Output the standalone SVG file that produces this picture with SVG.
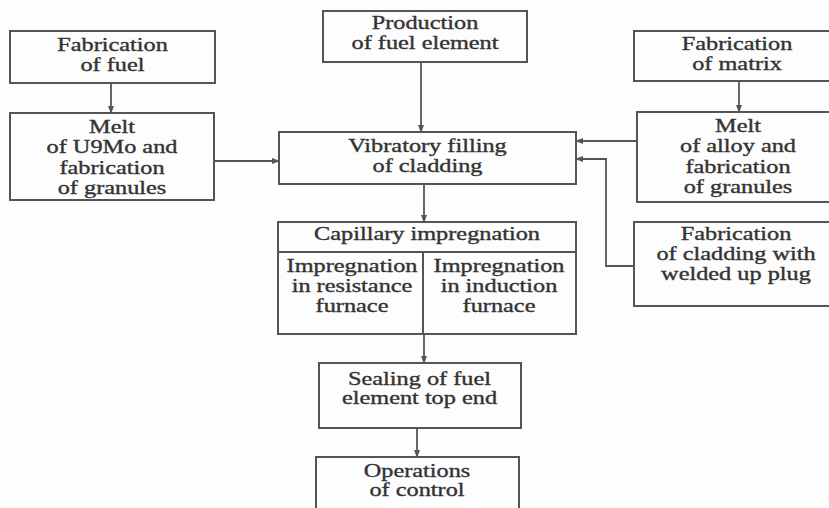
<svg xmlns="http://www.w3.org/2000/svg" width="829" height="508" viewBox="0 0 829 508">
<style>
.box{fill:none;stroke:#555;stroke-width:2}
.ln{fill:none;stroke:#555;stroke-width:1.8}
text{font-family:"Liberation Serif","Times New Roman",serif;font-size:18px;fill:#333;stroke:#333;stroke-width:0.35;text-anchor:middle}
</style>
<defs>
<marker id="ah" markerWidth="8" markerHeight="6" refX="7" refY="3" orient="auto" markerUnits="userSpaceOnUse">
<path d="M0,0 L8,3 L0,6 Z" fill="#555"/>
</marker>
</defs>
<rect width="829" height="508" fill="#fdfdfd"/>
<g id="connectors">
<line class="ln" x1="111" y1="83" x2="111" y2="113" marker-end="url(#ah)"/>
<line class="ln" x1="214" y1="161" x2="279" y2="161" marker-end="url(#ah)"/>
<line class="ln" x1="421" y1="62" x2="421" y2="132" marker-end="url(#ah)"/>
<line class="ln" x1="739" y1="81" x2="739" y2="112" marker-end="url(#ah)"/>
<line class="ln" x1="637" y1="141" x2="576" y2="141" marker-end="url(#ah)"/>
<polyline class="ln" points="634,266 606,266 606,159 576,159" marker-end="url(#ah)"/>
<line class="ln" x1="424" y1="184" x2="424" y2="222" marker-end="url(#ah)"/>
<line class="ln" x1="424" y1="334" x2="424" y2="363" marker-end="url(#ah)"/>
<line class="ln" x1="417" y1="428" x2="417" y2="457" marker-end="url(#ah)"/>
</g>
<g id="fab-fuel">
<rect class="box" x="10" y="31" width="205" height="52"/>
<text transform="matrix(1.35 0 0 1 112.5 0)"><tspan x="0" y="51">Fabrication</tspan><tspan x="0" y="71">of fuel</tspan></text>
</g>
<g id="melt-u9mo">
<rect class="box" x="10" y="113" width="204" height="87"/>
<text transform="matrix(1.35 0 0 1 112 0)"><tspan x="0" y="133">Melt</tspan><tspan x="0" y="153.5">of U9Mo and</tspan><tspan x="0" y="174">fabrication</tspan><tspan x="0" y="194">of granules</tspan></text>
</g>
<g id="production">
<rect class="box" x="323" y="11" width="204" height="51"/>
<text transform="matrix(1.35 0 0 1 425 0)"><tspan x="0" y="29">Production</tspan><tspan x="0" y="49.5">of fuel element</tspan></text>
</g>
<g id="vibratory">
<rect class="box" x="279" y="132" width="297" height="52"/>
<text transform="matrix(1.35 0 0 1 427.5 0)"><tspan x="0" y="152.5">Vibratory filling</tspan><tspan x="0" y="172.5">of cladding</tspan></text>
</g>
<g id="fab-matrix">
<rect class="box" x="634" y="31" width="210" height="50"/>
<text transform="matrix(1.35 0 0 1 737 0)"><tspan x="0" y="50">Fabrication</tspan><tspan x="0" y="70">of matrix</tspan></text>
</g>
<g id="melt-alloy">
<rect class="box" x="637" y="112" width="210" height="90"/>
<text transform="matrix(1.35 0 0 1 738 0)"><tspan x="0" y="132">Melt</tspan><tspan x="0" y="152.5">of alloy and</tspan><tspan x="0" y="173">fabrication</tspan><tspan x="0" y="193">of granules</tspan></text>
</g>
<g id="fab-cladding">
<rect class="box" x="634" y="222" width="210" height="84"/>
<text transform="matrix(1.35 0 0 1 736 0)"><tspan x="0" y="240">Fabrication</tspan><tspan x="0" y="260">of cladding with</tspan><tspan x="0" y="280">welded up plug</tspan></text>
</g>
<g id="capillary">
<rect class="box" x="278" y="222" width="298" height="112"/>
<line class="box" x1="278" y1="252" x2="576" y2="252"/>
<line class="box" x1="423" y1="252" x2="423" y2="334"/>
<text transform="matrix(1.35 0 0 1 427 0)"><tspan x="0" y="240">Capillary impregnation</tspan></text>
<text transform="matrix(1.35 0 0 1 352 0)"><tspan x="0" y="272">Impregnation</tspan><tspan x="0" y="292">in resistance</tspan><tspan x="0" y="312">furnace</tspan></text>
<text transform="matrix(1.35 0 0 1 499 0)"><tspan x="0" y="272">Impregnation</tspan><tspan x="0" y="292">in induction</tspan><tspan x="0" y="312">furnace</tspan></text>
</g>
<g id="sealing">
<rect class="box" x="319" y="363" width="202" height="65"/>
<text transform="matrix(1.35 0 0 1 419.5 0)"><tspan x="0" y="385">Sealing of fuel</tspan><tspan x="0" y="404">element top end</tspan></text>
</g>
<g id="operations">
<rect class="box" x="316" y="457" width="203" height="60"/>
<text transform="matrix(1.35 0 0 1 417 0)"><tspan x="0" y="477">Operations</tspan><tspan x="0" y="496">of control</tspan></text>
</g>
</svg>
